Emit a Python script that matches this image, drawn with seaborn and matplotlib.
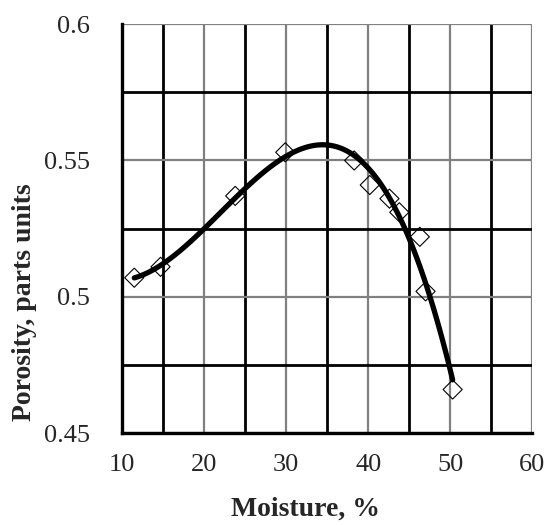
import numpy as np
import pandas as pd
import matplotlib
matplotlib.use("Agg")
import matplotlib.pyplot as plt
from matplotlib.ticker import MultipleLocator, FixedLocator
import seaborn as sns

# values
moisture = [11.5, 14.7, 23.8, 29.9, 38.3, 40.2, 42.6, 43.8, 46.3, 47.0, 50.3]
porosity = [0.507, 0.511, 0.537, 0.553, 0.550, 0.541, 0.536, 0.531, 0.522, 0.502, 0.466]

x_ticks = [10, 20, 30, 40, 50, 60]
y_ticks = [0.45, 0.5, 0.55, 0.6]
y_tick_labels = ["0.45", "0.5", "0.55", "0.6"]


def main():
    df = pd.DataFrame({"moisture": moisture, "porosity": porosity})

    sns.set_style("white")
    plt.rcParams["font.family"] = ["Liberation Serif", "DejaVu Serif"]

    fig = plt.figure(figsize=(5.47, 5.25), dpi=100)
    ax = fig.add_axes([0.223, 0.175, 0.750, 0.779])

    # polynomial trend line (like the spreadsheet trendline)
    sns.regplot(data=df, x="moisture", y="porosity", order=3, ci=None,
                scatter=False, truncate=True, ax=ax,
                line_kws={"color": "black", "lw": 3.8, "zorder": 4})
    sns.scatterplot(data=df, x="moisture", y="porosity", marker="D", s=95,
                    facecolor="none", edgecolor="black", linewidth=0.8,
                    ax=ax, zorder=5)

    ax.set_xlim(10, 60)
    ax.set_ylim(0.45, 0.6)
    ax.xaxis.set_major_locator(FixedLocator(x_ticks))
    ax.yaxis.set_major_locator(FixedLocator(y_ticks))
    ax.set_yticklabels(y_tick_labels)
    ax.xaxis.set_minor_locator(MultipleLocator(5))
    ax.yaxis.set_minor_locator(MultipleLocator(0.025))

    ax.grid(True, which="major", color="#808080", lw=1.6)
    ax.grid(True, which="minor", color="black", lw=2.0)
    ax.set_axisbelow(True)

    for side in ["top", "right"]:
        ax.spines[side].set_visible(False)
    for side in ["left", "bottom"]:
        ax.spines[side].set_linewidth(2.4)
        ax.spines[side].set_color("black")

    ax.tick_params(which="major", direction="out", length=6, width=2.4,
                   color="black", labelsize=19)
    ax.tick_params(axis="y", which="major", pad=17)
    ax.tick_params(axis="x", which="major", pad=9)
    ax.tick_params(which="minor", length=0)

    ax.set_xlabel("Moisture, %", fontsize=20, fontweight="bold")
    ax.set_ylabel("Porosity, parts units", fontsize=20, fontweight="bold")
    ax.xaxis.set_label_coords(0.447, -0.155)
    ax.yaxis.set_label_coords(-0.207, 0.319)

    fig.savefig("out.png", dpi=100)


if __name__ == "__main__":
    main()
